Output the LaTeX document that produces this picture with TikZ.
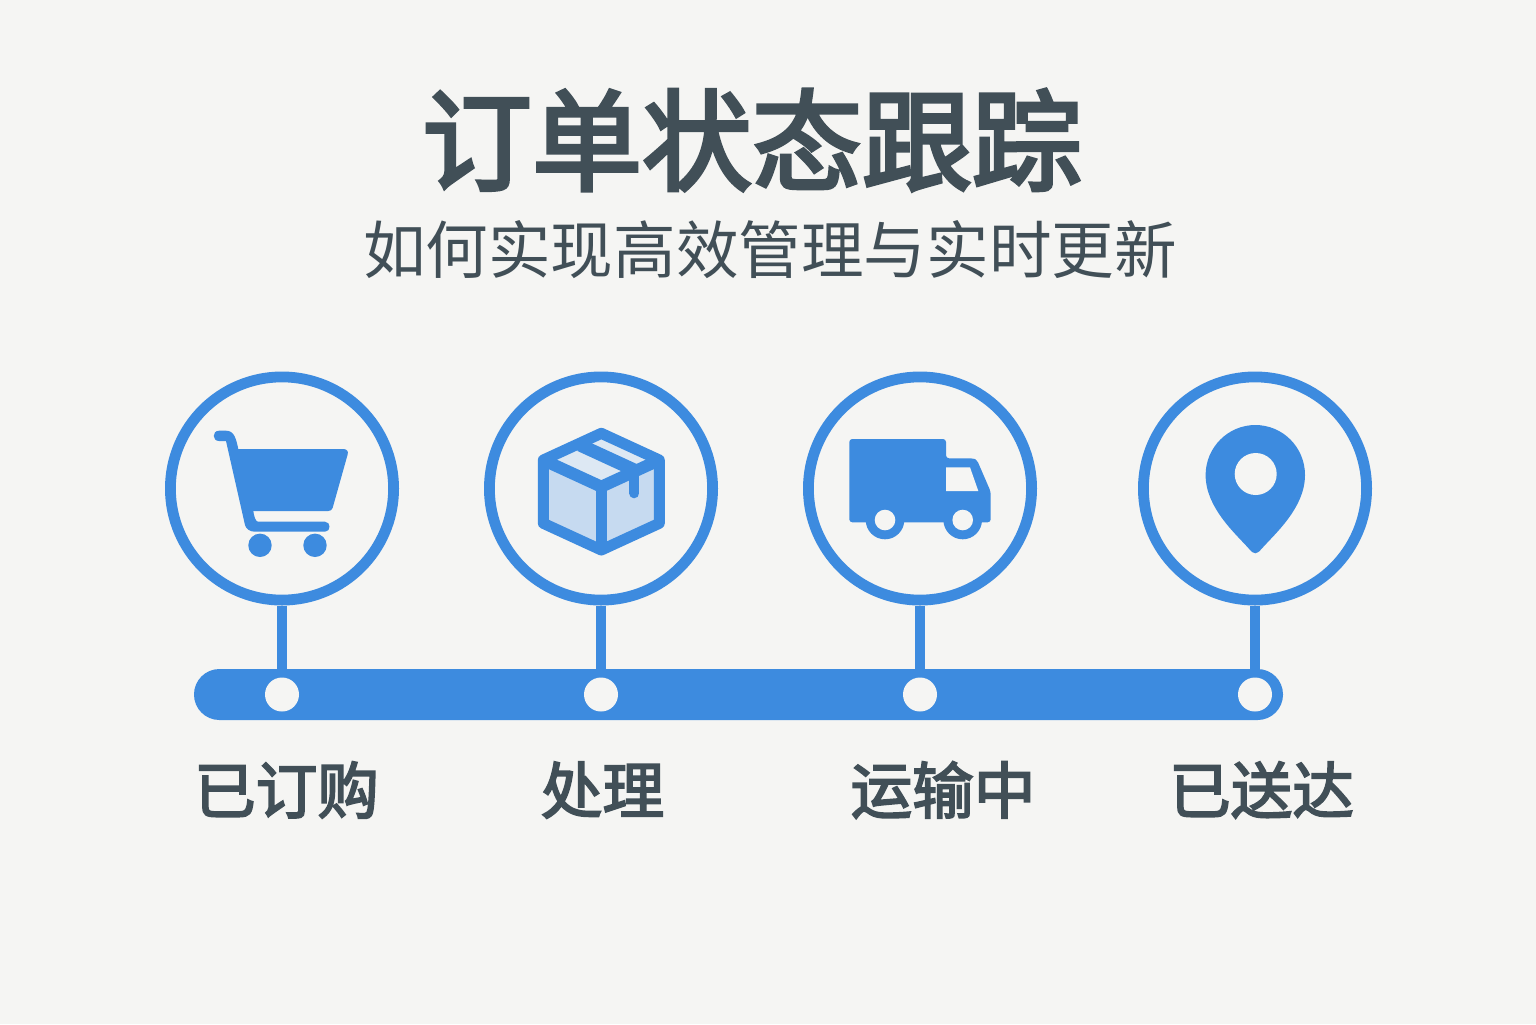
\documentclass[tikz,border=0pt]{standalone}
\usepackage{fontspec}
\newfontfamily\cjk{Noto Sans CJK SC}
\newfontfamily\cjkheavy[RawFeature={embolden=3.4}]{Noto Sans CJK SC}
\newfontfamily\cjkmedium[RawFeature={embolden=3}]{Noto Sans CJK SC}
\definecolor{bluemain}{HTML}{3D8BDF}
\definecolor{paper}{HTML}{F5F5F3}
\definecolor{inkdark}{HTML}{414F57}
\definecolor{boxside}{HTML}{C6DAF0}
\definecolor{boxtop}{HTML}{DDE8F3}
\tikzset{
	ring/.style={circle,draw=bluemain,line width=5.4pt,fill=paper,minimum size=111.6pt,inner sep=0pt},
	stem/.style={draw=bluemain,line width=5.4pt},
	dot/.style={circle,fill=paper,minimum size=17pt,inner sep=0pt},
	steplabel/.style={text=inkdark,font=\cjkmedium\fontsize{30.8pt}{36pt}\selectfont,inner sep=0pt},
}

\begin{document}
\begin{tikzpicture}[x=0.5pt,y=-0.5pt]
	\fill[paper] (0,0) rectangle (1536,1024);
	\useasboundingbox (0,0) rectangle (1536,1024);
	\node[text=inkdark,font=\cjkheavy\fontsize{55pt}{66pt}\selectfont,inner sep=0pt] (title) at (752,140) {订单状态跟踪};
	\node[text=inkdark,font=\cjk\fontsize{31.3pt}{38pt}\selectfont,inner sep=0pt] (subtitle) at (770,250) {如何实现高效管理与实时更新};

	\node[ring] (cart) at (282,488.5) {};
	\node[ring] (box) at (601,488.5) {};
	\node[ring] (truck) at (920,488.5) {};
	\node[ring] (pin) at (1255,488.5) {};

	\node[fill=bluemain,rounded corners=12.7pt,minimum width=544.5pt,minimum height=25.5pt,inner sep=0pt] (bar) at (738.5,694.5) {};
	\node[dot] (dotcart) at (282,694.5) {};
	\node[dot] (dotbox) at (601,694.5) {};
	\node[dot] (dottruck) at (920,694.5) {};
	\node[dot] (dotpin) at (1255,694.5) {};

	\draw[stem] (cart) -- (dotcart);
	\draw[stem] (box) -- (dotbox);
	\draw[stem] (truck) -- (dottruck);
	\draw[stem] (pin) -- (dotpin);

	\node[steplabel] (ordered) at (286.5,790) {已订购};
	\node[steplabel] (handling) at (602.5,790) {处理};
	\node[steplabel] (moving) at (943,790) {运输中};
	\node[steplabel] (arrived) at (1261.5,790) {已送达};

	% cart
	\fill[bluemain] (238.3,449) .. controls (236,438) and (234,430.7) .. (226,430.7) -- (219,430.7)
		.. controls (212,430.7) and (212,441) .. (219,441) -- (224,441) -- (226,441) -- (245,525)
		.. controls (246,529) and (250,531.7) .. (255,531.7) -- (325,531.7)
		.. controls (331,531.7) and (331,521.7) .. (325,521.7) -- (258,521.7)
		.. controls (255.5,521.7) and (254,516) .. (253.3,511) -- (328.3,511)
		.. controls (330.5,511) and (332,510) .. (332.7,507.7) -- (347.7,454.3)
		.. controls (348.5,451) and (346.5,449) .. (343.3,449) -- cycle;
	\fill[bluemain] (260,545.3) circle[radius=11.7];
	\fill[bluemain] (315,545.3) circle[radius=11.7];

	% box
	\fill[boxside] (543.3,460) -- (601.3,486.7) -- (659.3,460) -- (659.3,523.3) -- (601.3,550) -- (543.3,523.3) -- cycle;
	\fill[boxtop] (543.3,460) -- (601.3,433.3) -- (659.3,460) -- (601.3,486.7) -- cycle;
	\draw[bluemain,line width=5.5pt,line join=round] (543.3,460) -- (601.3,433.3) -- (659.3,460) -- (659.3,523.3) -- (601.3,550) -- (543.3,523.3) -- cycle;
	\draw[bluemain,line width=6pt,line join=round] (543.3,460) -- (601.3,486.7) -- (659.3,460);
	\draw[bluemain,line width=5.5pt] (601.3,486.7) -- (601.3,550);
	\draw[bluemain,line width=6.5pt] (580,445) -- (634.3,470);
	\draw[bluemain,line width=5pt,line cap=round] (634.3,470) -- (634.3,493.3);

	% truck
	\fill[bluemain,rounded corners=1.5pt] (849.3,439) -- (946,439) -- (946,458.3) -- (973,458.3) -- (977,460) -- (990.7,491.7) -- (990.7,522.3) -- (849.3,522.3) -- cycle;
	\fill[bluemain] (885,520) circle[radius=19.3];
	\fill[bluemain] (962.7,520) circle[radius=19.3];
	\fill[paper] (885,520) circle[radius=10.3];
	\fill[paper] (962.7,520) circle[radius=10.3];
	\fill[paper] (946,467.3) -- (970,467.3) -- (978.3,491) -- (946,491) -- cycle;

	% location mark
	\fill[bluemain] (1255.3,553.3) .. controls (1253,553.3) and (1251.5,551.5) .. (1249,548.8)
		.. controls (1236,534) and (1205.6,508) .. (1205.6,475)
		.. controls (1205.6,447.5) and (1228,425) .. (1255.3,425)
		.. controls (1283,425) and (1305,447.5) .. (1305,475)
		.. controls (1305,508) and (1274.6,534) .. (1261.6,548.8)
		.. controls (1259.1,551.5) and (1257.6,553.3) .. (1255.3,553.3) -- cycle;
	\fill[paper] (1255.7,474) circle[radius=21];
\end{tikzpicture}
\end{document}
